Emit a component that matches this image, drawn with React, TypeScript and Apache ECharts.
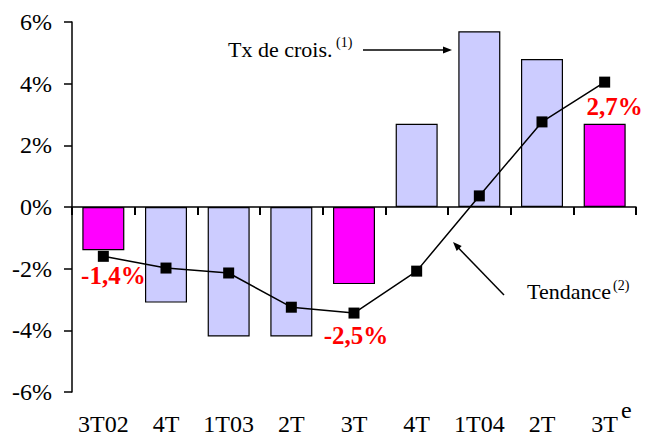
import React, { useEffect, useRef } from "react";
import * as echarts from "echarts";

const categories = ["3T02", "4T", "1T03", "2T", "3T", "4T", "1T04", "2T", "3T"];
const growthRates = [-1.4, -3.1, -4.2, -4.2, -2.5, 2.7, 5.7, 4.8, 2.7];
const highlighted = [true, false, false, false, true, false, false, false, true];
const trend = [-1.6, -1.98, -2.14, -3.25, -3.44, -2.08, 0.36, 2.76, 4.05];
const yTicks = { min: -6, max: 6, interval: 2 };

const SERIF = "Liberation Serif, serif";

export default function App() {
  const ref = useRef<HTMLDivElement>(null);
  useEffect(() => {
    document.body.style.margin = "0";
    document.body.style.overflow = "hidden";
    if (!ref.current) return;
    const chart = echarts.init(ref.current, null, { renderer: "svg" });
    const labelOffsets: Record<number, [string, number[]]> = {
      0: ["bottom", [10, 8]],
      4: ["bottom", [2, 34]],
      8: ["top", [10, 0]],
    };
    const barData = growthRates.map((v, i) => {
      const item: any = {
        value: v,
        itemStyle: { color: highlighted[i] ? "#FF00FF" : "#CCCCFF" },
      };
      if (highlighted[i]) {
        const [pos, off] = labelOffsets[i];
        item.label = {
          show: true,
          position: pos,
          offset: off,
          formatter: String(v).replace(".", ",") + "%",
          color: "#FF0000",
          fontFamily: SERIF,
          fontWeight: "bold",
          fontSize: 25,
        };
      }
      return item;
    });
    const txt = (text: string, x: number, y: number, size: number) => ({
      type: "text",
      x,
      y,
      style: { text, fontFamily: SERIF, fontSize: size, fill: "#000" },
    });
    chart.setOption({
      animation: false,
      grid: { left: 72, right: 12, top: 22, bottom: 52 },
      xAxis: [
        {
          type: "category",
          data: categories,
          axisLine: { onZero: true, lineStyle: { color: "#000", width: 1.5 } },
          axisTick: { show: true, interval: 0, length: 8, lineStyle: { color: "#000", width: 2 } },
          axisLabel: { show: false },
        },
        {
          type: "category",
          data: categories,
          position: "bottom",
          axisLine: { show: false, onZero: false },
          axisTick: { show: false },
          axisLabel: {
            show: true,
            interval: 0,
            margin: 20,
            color: "#000",
            fontFamily: SERIF,
            fontSize: 24,
          },
        },
      ],
      yAxis: {
        type: "value",
        min: yTicks.min,
        max: yTicks.max,
        interval: yTicks.interval,
        splitLine: { show: false },
        axisLine: { show: true, lineStyle: { color: "#000", width: 1.5 } },
        axisTick: { show: true, length: 8, lineStyle: { color: "#000", width: 1.5 } },
        axisLabel: {
          margin: 20,
          color: "#000",
          fontFamily: SERIF,
          fontSize: 24,
          formatter: "{value}%",
        },
      },
      series: [
        {
          type: "bar",
          xAxisIndex: 0,
          data: barData,
          barWidth: 42,
          itemStyle: { borderColor: "#000", borderWidth: 1.2 },
        },
        {
          type: "line",
          xAxisIndex: 0,
          data: trend,
          symbol: "rect",
          symbolSize: 11,
          itemStyle: { color: "#000" },
          lineStyle: { color: "#000", width: 1.5 },
        },
      ],
      graphic: [
        txt("Tx de crois.", 228, 38, 22),
        txt("(1)", 336, 35, 14),
        {
          type: "line",
          shape: { x1: 363, y1: 50, x2: 445, y2: 50 },
          style: { stroke: "#000", lineWidth: 1.5 },
        },
        {
          type: "polygon",
          shape: { points: [[452, 50], [443, 46.5], [443, 53.5]] },
          style: { fill: "#000" },
        },
        txt("Tendance", 527, 280, 22),
        txt("(2)", 613, 278, 14),
        {
          type: "line",
          shape: { x1: 504, y1: 295, x2: 458, y2: 247.5 },
          style: { stroke: "#000", lineWidth: 1.5 },
        },
        {
          type: "polygon",
          shape: { points: [[453, 242], [461.7, 246.1], [456.7, 250.9]] },
          style: { fill: "#000" },
        },
      ],
    });
    return () => chart.dispose();
  }, []);
  return (
    <div style={{ position: "relative", width: 648, height: 444 }}>
      <div ref={ref} style={{ width: 648, height: 444 }} />
      <span
        style={{
          position: "absolute",
          left: 621,
          top: 398,
          fontFamily: SERIF,
          fontSize: 24,
          lineHeight: "24px",
          color: "#000",
        }}
      >
        e
      </span>
    </div>
  );
}
